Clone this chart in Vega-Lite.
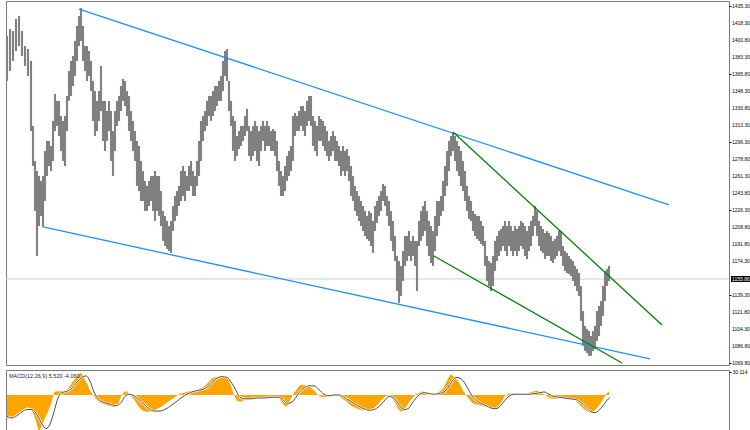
{
  "$schema": "https://vega.github.io/schema/vega-lite/v6.json",
  "padding": {"left": 2, "top": 0, "right": 0, "bottom": 0},
  "background": "white",
  "spacing": 2,
  "config": {
    "font": "Liberation Sans",
    "view": {"stroke": "#7a7a7a", "strokeWidth": 1},
    "axis": {"grid": false, "domain": false, "tickSize": 2, "tickColor": "#000", "labelFontSize": 5, "labelColor": "#000", "labelPadding": 1, "labelFont": "Liberation Sans", "labelOverlap": false, "labelBound": false, "labelFlush": false}
  },
  "datasets": {
    "candles": [
      {"t":3,"h":1404.6,"l":1358.5},{"t":6,"h":1411.7,"l":1368.8},{"t":9,"h":1409.7,"l":1379.0},{"t":12,"h":1422.0,"l":1389.2},{"t":15,"h":1425.0,"l":1394.3},{"t":18,"h":1409.7,"l":1384.1},{"t":21,"h":1394.3,"l":1373.9},{"t":24,"h":1391.3,"l":1363.6},{"t":27,"h":1379.0,"l":1307.3},{"t":29,"h":1312.5,"l":1271.5},{"t":31,"h":1276.6,"l":1225.5},{"t":33,"h":1266.4,"l":1179.4},{"t":35,"h":1261.3,"l":1210.1},{"t":37,"h":1256.2,"l":1220.4},{"t":39,"h":1261.3,"l":1209.1},{"t":41,"h":1286.9,"l":1235.7},{"t":43,"h":1297.1,"l":1261.3},{"t":45,"h":1297.1,"l":1271.5},{"t":47,"h":1292.0,"l":1266.4},{"t":49,"h":1317.6,"l":1276.6},{"t":51,"h":1345.2,"l":1307.3},{"t":53,"h":1338.1,"l":1312.5},{"t":55,"h":1338.1,"l":1302.2},{"t":57,"h":1322.7,"l":1286.9},{"t":59,"h":1317.6,"l":1276.6},{"t":61,"h":1322.7,"l":1271.5},{"t":63,"h":1343.2,"l":1307.3},{"t":65,"h":1368.8,"l":1338.1},{"t":67,"h":1379.0,"l":1343.2},{"t":69,"h":1384.1,"l":1353.4},{"t":71,"h":1399.5,"l":1363.6},{"t":73,"h":1414.8,"l":1379.0},{"t":75,"h":1425.0,"l":1394.3},{"t":77,"h":1433.2,"l":1399.5},{"t":79,"h":1414.8,"l":1379.0},{"t":81,"h":1394.3,"l":1368.8},{"t":83,"h":1394.3,"l":1358.5},{"t":85,"h":1389.2,"l":1363.6},{"t":87,"h":1379.0,"l":1348.3},{"t":89,"h":1358.5,"l":1317.6},{"t":91,"h":1348.3,"l":1302.2},{"t":93,"h":1338.1,"l":1307.3},{"t":95,"h":1348.3,"l":1317.6},{"t":97,"h":1373.9,"l":1327.8},{"t":99,"h":1338.1,"l":1297.1},{"t":101,"h":1338.1,"l":1286.9},{"t":103,"h":1327.8,"l":1297.1},{"t":105,"h":1338.1,"l":1307.3},{"t":107,"h":1327.8,"l":1276.6},{"t":109,"h":1307.3,"l":1261.3},{"t":111,"h":1327.8,"l":1286.9},{"t":113,"h":1338.1,"l":1312.5},{"t":115,"h":1343.2,"l":1317.6},{"t":117,"h":1353.4,"l":1327.8},{"t":119,"h":1360.6,"l":1338.1},{"t":121,"h":1358.5,"l":1332.9},{"t":123,"h":1348.3,"l":1322.7},{"t":125,"h":1343.2,"l":1307.3},{"t":127,"h":1327.8,"l":1297.1},{"t":129,"h":1317.6,"l":1286.9},{"t":131,"h":1307.3,"l":1276.6},{"t":133,"h":1297.1,"l":1251.1},{"t":135,"h":1292.0,"l":1245.9},{"t":137,"h":1276.6,"l":1235.7},{"t":139,"h":1266.4,"l":1235.7},{"t":141,"h":1256.2,"l":1225.5},{"t":143,"h":1251.1,"l":1225.5},{"t":145,"h":1256.2,"l":1230.5},{"t":147,"h":1261.3,"l":1235.7},{"t":149,"h":1261.3,"l":1225.5},{"t":151,"h":1266.4,"l":1215.2},{"t":153,"h":1261.3,"l":1225.5},{"t":155,"h":1261.3,"l":1220.4},{"t":157,"h":1245.9,"l":1210.1},{"t":159,"h":1225.5,"l":1194.8},{"t":161,"h":1220.4,"l":1189.6},{"t":163,"h":1215.2,"l":1186.6},{"t":165,"h":1210.1,"l":1184.5},{"t":167,"h":1215.2,"l":1182.5},{"t":169,"h":1230.5,"l":1205.0},{"t":171,"h":1240.8,"l":1215.2},{"t":173,"h":1245.9,"l":1220.4},{"t":175,"h":1251.1,"l":1230.5},{"t":177,"h":1266.4,"l":1235.7},{"t":179,"h":1271.5,"l":1240.8},{"t":181,"h":1266.4,"l":1235.7},{"t":183,"h":1261.3,"l":1245.9},{"t":185,"h":1271.5,"l":1245.9},{"t":187,"h":1276.6,"l":1251.1},{"t":189,"h":1266.4,"l":1240.8},{"t":191,"h":1261.3,"l":1240.8},{"t":193,"h":1276.6,"l":1251.1},{"t":195,"h":1297.1,"l":1261.3},{"t":197,"h":1317.6,"l":1276.6},{"t":199,"h":1322.7,"l":1297.1},{"t":201,"h":1327.8,"l":1307.3},{"t":203,"h":1338.1,"l":1312.5},{"t":205,"h":1343.2,"l":1322.7},{"t":207,"h":1343.2,"l":1317.6},{"t":209,"h":1348.3,"l":1322.7},{"t":211,"h":1353.4,"l":1327.8},{"t":213,"h":1353.4,"l":1332.9},{"t":215,"h":1358.5,"l":1338.1},{"t":217,"h":1363.6,"l":1338.1},{"t":219,"h":1379.0,"l":1348.3},{"t":221,"h":1389.2,"l":1363.6},{"t":223,"h":1391.3,"l":1358.5},{"t":225,"h":1358.5,"l":1327.8},{"t":227,"h":1338.1,"l":1312.5},{"t":229,"h":1322.7,"l":1286.9},{"t":231,"h":1317.6,"l":1276.6},{"t":233,"h":1302.2,"l":1281.8},{"t":235,"h":1307.3,"l":1288.9},{"t":237,"h":1312.5,"l":1292.0},{"t":239,"h":1312.5,"l":1297.1},{"t":241,"h":1322.7,"l":1302.2},{"t":243,"h":1329.9,"l":1307.3},{"t":245,"h":1312.5,"l":1281.8},{"t":247,"h":1307.3,"l":1276.6},{"t":249,"h":1312.5,"l":1281.8},{"t":251,"h":1317.6,"l":1286.9},{"t":253,"h":1312.5,"l":1276.6},{"t":255,"h":1307.3,"l":1271.5},{"t":257,"h":1312.5,"l":1286.9},{"t":259,"h":1317.6,"l":1297.1},{"t":261,"h":1312.5,"l":1286.9},{"t":263,"h":1317.6,"l":1292.0},{"t":265,"h":1312.5,"l":1292.0},{"t":267,"h":1307.3,"l":1286.9},{"t":269,"h":1309.4,"l":1286.9},{"t":271,"h":1307.3,"l":1281.8},{"t":273,"h":1297.1,"l":1266.4},{"t":275,"h":1276.6,"l":1251.1},{"t":277,"h":1266.4,"l":1240.8},{"t":279,"h":1261.3,"l":1240.8},{"t":281,"h":1271.5,"l":1245.9},{"t":283,"h":1281.8,"l":1256.2},{"t":285,"h":1286.9,"l":1261.3},{"t":287,"h":1292.0,"l":1266.4},{"t":289,"h":1322.7,"l":1276.6},{"t":291,"h":1325.8,"l":1302.2},{"t":293,"h":1322.7,"l":1307.3},{"t":295,"h":1327.8,"l":1307.3},{"t":297,"h":1332.9,"l":1312.5},{"t":299,"h":1332.9,"l":1307.3},{"t":301,"h":1327.8,"l":1302.2},{"t":303,"h":1338.1,"l":1312.5},{"t":305,"h":1343.2,"l":1317.6},{"t":307,"h":1343.2,"l":1312.5},{"t":309,"h":1322.7,"l":1292.0},{"t":311,"h":1317.6,"l":1286.9},{"t":313,"h":1312.5,"l":1281.8},{"t":315,"h":1322.7,"l":1297.1},{"t":317,"h":1319.6,"l":1297.1},{"t":319,"h":1317.6,"l":1292.0},{"t":321,"h":1312.5,"l":1286.9},{"t":323,"h":1307.3,"l":1281.8},{"t":325,"h":1297.1,"l":1276.6},{"t":327,"h":1302.2,"l":1281.8},{"t":329,"h":1307.3,"l":1286.9},{"t":331,"h":1302.2,"l":1276.6},{"t":333,"h":1297.1,"l":1276.6},{"t":335,"h":1292.0,"l":1271.5},{"t":337,"h":1286.9,"l":1261.3},{"t":339,"h":1292.0,"l":1266.4},{"t":341,"h":1286.9,"l":1261.3},{"t":343,"h":1288.9,"l":1266.4},{"t":345,"h":1281.8,"l":1256.2},{"t":347,"h":1271.5,"l":1240.8},{"t":349,"h":1261.3,"l":1235.7},{"t":351,"h":1251.1,"l":1225.5},{"t":353,"h":1245.9,"l":1220.4},{"t":355,"h":1240.8,"l":1215.2},{"t":357,"h":1235.7,"l":1210.1},{"t":359,"h":1230.5,"l":1205.0},{"t":361,"h":1225.5,"l":1199.9},{"t":363,"h":1220.4,"l":1196.8},{"t":365,"h":1225.5,"l":1194.8},{"t":367,"h":1223.4,"l":1189.6},{"t":369,"h":1215.2,"l":1182.5},{"t":371,"h":1230.5,"l":1205.0},{"t":373,"h":1235.7,"l":1213.2},{"t":375,"h":1240.8,"l":1220.4},{"t":377,"h":1245.9,"l":1225.5},{"t":379,"h":1253.1,"l":1235.7},{"t":381,"h":1251.1,"l":1230.5},{"t":383,"h":1240.8,"l":1220.4},{"t":385,"h":1235.7,"l":1210.1},{"t":387,"h":1225.5,"l":1194.8},{"t":389,"h":1215.2,"l":1184.5},{"t":391,"h":1199.9,"l":1174.3},{"t":393,"h":1179.4,"l":1143.6},{"t":395,"h":1174.3,"l":1131.3},{"t":397,"h":1169.2,"l":1138.5},{"t":399,"h":1184.5,"l":1153.8},{"t":401,"h":1199.9,"l":1169.2},{"t":403,"h":1199.9,"l":1174.3},{"t":405,"h":1205.0,"l":1179.4},{"t":407,"h":1194.8,"l":1174.3},{"t":409,"h":1199.9,"l":1179.4},{"t":411,"h":1194.8,"l":1169.2},{"t":413,"h":1194.8,"l":1143.6},{"t":415,"h":1215.2,"l":1189.6},{"t":417,"h":1225.5,"l":1194.8},{"t":419,"h":1230.5,"l":1199.9},{"t":421,"h":1235.7,"l":1205.0},{"t":423,"h":1225.5,"l":1189.6},{"t":425,"h":1215.2,"l":1179.4},{"t":427,"h":1210.1,"l":1172.2},{"t":429,"h":1205.0,"l":1169.2},{"t":431,"h":1220.4,"l":1184.5},{"t":433,"h":1235.7,"l":1199.9},{"t":435,"h":1235.7,"l":1210.1},{"t":437,"h":1240.8,"l":1220.4},{"t":439,"h":1256.2,"l":1225.5},{"t":441,"h":1271.5,"l":1240.8},{"t":443,"h":1286.9,"l":1251.1},{"t":445,"h":1297.1,"l":1266.4},{"t":447,"h":1302.2,"l":1281.8},{"t":449,"h":1306.3,"l":1286.9},{"t":451,"h":1302.2,"l":1276.6},{"t":453,"h":1297.1,"l":1266.4},{"t":455,"h":1292.0,"l":1261.3},{"t":457,"h":1286.9,"l":1251.1},{"t":459,"h":1276.6,"l":1245.9},{"t":461,"h":1266.4,"l":1235.7},{"t":463,"h":1251.1,"l":1225.5},{"t":465,"h":1240.8,"l":1217.3},{"t":467,"h":1235.7,"l":1215.2},{"t":469,"h":1225.5,"l":1205.0},{"t":471,"h":1222.4,"l":1199.9},{"t":473,"h":1220.4,"l":1196.8},{"t":475,"h":1220.4,"l":1194.8},{"t":477,"h":1215.2,"l":1191.7},{"t":479,"h":1210.1,"l":1189.6},{"t":481,"h":1194.8,"l":1169.2},{"t":483,"h":1179.4,"l":1153.8},{"t":485,"h":1174.3,"l":1148.7},{"t":487,"h":1172.2,"l":1143.6},{"t":489,"h":1179.4,"l":1148.7},{"t":491,"h":1194.8,"l":1164.1},{"t":493,"h":1199.9,"l":1174.3},{"t":495,"h":1205.0,"l":1179.4},{"t":497,"h":1207.0,"l":1184.5},{"t":499,"h":1210.1,"l":1189.6},{"t":501,"h":1215.2,"l":1184.5},{"t":503,"h":1210.1,"l":1179.4},{"t":505,"h":1215.2,"l":1189.6},{"t":507,"h":1210.1,"l":1184.5},{"t":509,"h":1205.0,"l":1179.4},{"t":511,"h":1210.1,"l":1184.5},{"t":513,"h":1207.0,"l":1179.4},{"t":515,"h":1210.1,"l":1184.5},{"t":517,"h":1215.2,"l":1189.6},{"t":519,"h":1213.2,"l":1186.6},{"t":521,"h":1210.1,"l":1179.4},{"t":523,"h":1205.0,"l":1176.3},{"t":525,"h":1210.1,"l":1184.5},{"t":527,"h":1215.2,"l":1189.6},{"t":529,"h":1220.4,"l":1199.9},{"t":531,"h":1230.5,"l":1210.1},{"t":533,"h":1225.5,"l":1199.9},{"t":535,"h":1215.2,"l":1189.6},{"t":537,"h":1210.1,"l":1184.5},{"t":539,"h":1207.0,"l":1182.5},{"t":541,"h":1202.9,"l":1176.3},{"t":543,"h":1205.0,"l":1179.4},{"t":545,"h":1202.9,"l":1179.4},{"t":547,"h":1199.9,"l":1174.3},{"t":549,"h":1194.8,"l":1172.2},{"t":551,"h":1196.8,"l":1176.3},{"t":553,"h":1199.9,"l":1179.4},{"t":555,"h":1205.0,"l":1184.5},{"t":557,"h":1205.0,"l":1179.4},{"t":559,"h":1189.6,"l":1169.2},{"t":561,"h":1184.5,"l":1164.1},{"t":563,"h":1182.5,"l":1162.0},{"t":565,"h":1179.4,"l":1161.0},{"t":567,"h":1176.3,"l":1158.9},{"t":569,"h":1174.3,"l":1153.8},{"t":571,"h":1169.2,"l":1148.7},{"t":573,"h":1166.1,"l":1143.6},{"t":575,"h":1162.0,"l":1138.5},{"t":577,"h":1148.7,"l":1112.9},{"t":579,"h":1123.1,"l":1087.3},{"t":581,"h":1107.8,"l":1082.2},{"t":583,"h":1104.7,"l":1080.1},{"t":585,"h":1102.6,"l":1077.1},{"t":587,"h":1097.5,"l":1077.1},{"t":589,"h":1102.6,"l":1082.2},{"t":591,"h":1107.8,"l":1084.2},{"t":593,"h":1123.1,"l":1092.4},{"t":595,"h":1128.2,"l":1097.5},{"t":597,"h":1133.4,"l":1107.8},{"t":599,"h":1148.7,"l":1118.0},{"t":601,"h":1164.1,"l":1133.4},{"t":603,"h":1166.1,"l":1148.7},{"t":605,"h":1169.2,"l":1153.8}
    ],
    "trend": [
      {"line":"b1","t":75,"p":1432.2},{"line":"b1","t":665,"p":1231.6},
      {"line":"b2","t":39,"p":1209.1},{"line":"b2","t":646,"p":1074.0},
      {"line":"g1","t":449,"p":1306.3},{"line":"g1","t":658,"p":1108.8},
      {"line":"g2","t":430,"p":1179.4},{"line":"g2","t":618,"p":1069.9}
    ],
    "pricelabels": [
      {"x":728,"p":1069.8,"lab":"1069.80"},{"x":728,"p":1086.8,"lab":"1086.80"},{"x":728,"p":1104.3,"lab":"1104.30"},{"x":728,"p":1121.8,"lab":"1121.80"},{"x":728,"p":1139.3,"lab":"1139.30"},{"x":728,"p":1174.3,"lab":"1174.30"},{"x":728,"p":1191.8,"lab":"1191.80"},{"x":728,"p":1208.8,"lab":"1208.80"},{"x":728,"p":1226.3,"lab":"1226.30"},{"x":728,"p":1243.8,"lab":"1243.80"},{"x":728,"p":1261.3,"lab":"1261.30"},{"x":728,"p":1278.8,"lab":"1278.80"},{"x":728,"p":1296.3,"lab":"1296.30"},{"x":728,"p":1313.3,"lab":"1313.30"},{"x":728,"p":1330.8,"lab":"1330.80"},{"x":728,"p":1348.3,"lab":"1348.30"},{"x":728,"p":1365.8,"lab":"1365.80"},{"x":728,"p":1383.3,"lab":"1383.30"},{"x":728,"p":1400.8,"lab":"1400.80"},{"x":728,"p":1418.3,"lab":"1418.30"},{"x":728,"p":1435.3,"lab":"1435.30"}
    ],
    "hist": [
      {"t":3,"m":-31},{"t":8,"m":-30},{"t":13,"m":-25},{"t":18,"m":-20},{"t":23,"m":-16},{"t":27,"m":-18},{"t":31,"m":-30},{"t":35,"m":-48},{"t":38,"m":-40},{"t":41,"m":-30},{"t":44,"m":-22},{"t":47,"m":-12},{"t":50,"m":4},{"t":53,"m":5},{"t":56,"m":5},{"t":60,"m":5},{"t":63,"m":6},{"t":66,"m":12},{"t":69,"m":18},{"t":72,"m":22},{"t":75,"m":27},{"t":77,"m":29},{"t":80,"m":22},{"t":83,"m":15},{"t":86,"m":6},{"t":89,"m":0},{"t":92,"m":-6},{"t":96,"m":-10},{"t":100,"m":-12},{"t":105,"m":-14},{"t":110,"m":-16},{"t":114,"m":-12},{"t":117,"m":-2},{"t":120,"m":4},{"t":123,"m":5},{"t":126,"m":0},{"t":130,"m":-6},{"t":134,"m":-14},{"t":138,"m":-20},{"t":142,"m":-22},{"t":146,"m":-22},{"t":150,"m":-20},{"t":155,"m":-17},{"t":160,"m":-13},{"t":165,"m":-8},{"t":170,"m":-4},{"t":175,"m":1},{"t":180,"m":3},{"t":185,"m":5},{"t":190,"m":6},{"t":195,"m":8},{"t":200,"m":11},{"t":204,"m":16},{"t":208,"m":22},{"t":212,"m":24},{"t":216,"m":24},{"t":220,"m":24},{"t":224,"m":22},{"t":227,"m":12},{"t":230,"m":0},{"t":233,"m":-8},{"t":237,"m":-9},{"t":241,"m":-6},{"t":245,"m":-6},{"t":250,"m":-4},{"t":255,"m":-3},{"t":260,"m":-3},{"t":265,"m":-3},{"t":270,"m":-3},{"t":275,"m":-4},{"t":278,"m":-10},{"t":281,"m":-15},{"t":284,"m":-14},{"t":287,"m":-4},{"t":290,"m":3},{"t":293,"m":8},{"t":296,"m":13},{"t":300,"m":13},{"t":305,"m":12},{"t":310,"m":6},{"t":314,"m":0},{"t":318,"m":-3},{"t":322,"m":-3},{"t":326,"m":0},{"t":330,"m":1},{"t":334,"m":0},{"t":338,"m":-5},{"t":342,"m":-8},{"t":346,"m":-13},{"t":350,"m":-16},{"t":355,"m":-19},{"t":360,"m":-20},{"t":365,"m":-19},{"t":370,"m":-17},{"t":374,"m":-12},{"t":378,"m":-6},{"t":382,"m":-1},{"t":385,"m":0},{"t":388,"m":-4},{"t":391,"m":-10},{"t":394,"m":-18},{"t":397,"m":-22},{"t":400,"m":-20},{"t":403,"m":-14},{"t":406,"m":-8},{"t":409,"m":-3},{"t":412,"m":1},{"t":415,"m":3},{"t":418,"m":5},{"t":421,"m":3},{"t":424,"m":0},{"t":427,"m":0},{"t":430,"m":1},{"t":433,"m":3},{"t":436,"m":5},{"t":439,"m":8},{"t":442,"m":16},{"t":445,"m":24},{"t":447,"m":27},{"t":450,"m":24},{"t":453,"m":20},{"t":456,"m":14},{"t":459,"m":6},{"t":462,"m":0},{"t":465,"m":-5},{"t":468,"m":-10},{"t":471,"m":-12},{"t":475,"m":-13},{"t":480,"m":-15},{"t":485,"m":-17},{"t":489,"m":-19},{"t":492,"m":-18},{"t":495,"m":-14},{"t":498,"m":-8},{"t":501,"m":-1},{"t":504,"m":2},{"t":508,"m":2},{"t":512,"m":1},{"t":516,"m":0},{"t":520,"m":1},{"t":524,"m":2},{"t":527,"m":4},{"t":530,"m":5},{"t":533,"m":6},{"t":536,"m":4},{"t":539,"m":2},{"t":542,"m":-1},{"t":545,"m":-4},{"t":548,"m":-5},{"t":552,"m":-5},{"t":556,"m":-4},{"t":560,"m":-4},{"t":564,"m":-4},{"t":568,"m":-5},{"t":572,"m":-8},{"t":575,"m":-12},{"t":578,"m":-16},{"t":581,"m":-20},{"t":584,"m":-22},{"t":587,"m":-23},{"t":590,"m":-21},{"t":593,"m":-17},{"t":596,"m":-12},{"t":599,"m":-6},{"t":602,"m":1},{"t":605,"m":5}
    ],
    "signal": [
      {"t":3,"s":-28},{"t":8,"s":-30},{"t":13,"s":-27},{"t":18,"s":-22},{"t":23,"s":-19},{"t":28,"s":-19},{"t":33,"s":-26},{"t":38,"s":-38},{"t":42,"s":-44},{"t":46,"s":-38},{"t":50,"s":-22},{"t":54,"s":-4},{"t":58,"s":3},{"t":63,"s":5},{"t":68,"s":9},{"t":73,"s":17},{"t":78,"s":23},{"t":82,"s":25},{"t":86,"s":18},{"t":90,"s":4},{"t":94,"s":-5},{"t":100,"s":-10},{"t":106,"s":-12},{"t":112,"s":-14},{"t":117,"s":-10},{"t":121,"s":-2},{"t":125,"s":1},{"t":130,"s":-1},{"t":135,"s":-6},{"t":140,"s":-12},{"t":145,"s":-18},{"t":150,"s":-21},{"t":156,"s":-21},{"t":162,"s":-18},{"t":167,"s":-14},{"t":173,"s":-8},{"t":178,"s":-3},{"t":183,"s":1},{"t":188,"s":4},{"t":194,"s":6},{"t":200,"s":8},{"t":205,"s":12},{"t":209,"s":18},{"t":213,"s":22},{"t":218,"s":24},{"t":223,"s":23},{"t":228,"s":15},{"t":232,"s":6},{"t":236,"s":-3},{"t":241,"s":-5},{"t":247,"s":-5},{"t":253,"s":-4},{"t":260,"s":-4},{"t":267,"s":-3},{"t":273,"s":-3},{"t":278,"s":-5},{"t":283,"s":-11},{"t":287,"s":-10},{"t":291,"s":-5},{"t":295,"s":3},{"t":300,"s":9},{"t":305,"s":12},{"t":310,"s":12},{"t":315,"s":7},{"t":320,"s":1},{"t":325,"s":-1},{"t":330,"s":0},{"t":335,"s":0},{"t":340,"s":-3},{"t":345,"s":-7},{"t":350,"s":-11},{"t":355,"s":-15},{"t":360,"s":-18},{"t":365,"s":-20},{"t":370,"s":-19},{"t":375,"s":-15},{"t":380,"s":-8},{"t":385,"s":-2},{"t":388,"s":-3},{"t":392,"s":-7},{"t":396,"s":-14},{"t":400,"s":-19},{"t":404,"s":-18},{"t":408,"s":-11},{"t":412,"s":-4},{"t":416,"s":1},{"t":420,"s":3},{"t":425,"s":2},{"t":430,"s":1},{"t":435,"s":2},{"t":440,"s":4},{"t":444,"s":10},{"t":448,"s":18},{"t":452,"s":23},{"t":456,"s":22},{"t":460,"s":17},{"t":464,"s":8},{"t":468,"s":-1},{"t":472,"s":-7},{"t":477,"s":-11},{"t":482,"s":-14},{"t":487,"s":-17},{"t":491,"s":-18},{"t":495,"s":-16},{"t":499,"s":-10},{"t":503,"s":-4},{"t":507,"s":0},{"t":511,"s":1},{"t":516,"s":1},{"t":521,"s":1},{"t":526,"s":1},{"t":531,"s":2},{"t":536,"s":3},{"t":540,"s":4},{"t":545,"s":1},{"t":550,"s":-2},{"t":555,"s":-3},{"t":560,"s":-4},{"t":566,"s":-5},{"t":572,"s":-6},{"t":577,"s":-10},{"t":582,"s":-16},{"t":587,"s":-22},{"t":591,"s":-23},{"t":595,"s":-20},{"t":599,"s":-14},{"t":603,"s":-7},{"t":606,"s":-3}
    ]
  },
  "vconcat": [
    {
      "width": 723,
      "height": 364,
      "layer": [
        {
          "data": {"values": [{"p": 1155.86}]},
          "mark": {"type": "rule", "color": "#cfcfcf", "strokeWidth": 1},
          "encoding": {
            "y": {"field": "p", "type": "quantitative", "scale": {"domain": [1067.8, 1440.4], "nice": false, "zero": false},
              "axis": {"orient": "right", "title": null, "format": ".2f", "labelOpacity": 0, "tickSize": 2, "values": [1069.8, 1086.8, 1104.3, 1121.8, 1139.3, 1174.3, 1191.8, 1208.8, 1226.3, 1243.8, 1261.3, 1278.8, 1296.3, 1313.3, 1330.8, 1348.3, 1365.8, 1383.3, 1400.8, 1418.3, 1435.3]}}
          }
        },
        {
          "data": {"name": "candles"},
          "mark": {"type": "rule", "color": "#808080", "strokeWidth": 2.1},
          "encoding": {
            "x": {"field": "t", "type": "quantitative", "scale": {"domain": [2, 725], "nice": false, "zero": false}, "axis": null},
            "y": {"field": "l", "type": "quantitative", "scale": {"domain": [1067.8, 1440.4], "nice": false, "zero": false}},
            "y2": {"field": "h"}
          }
        },
        {
          "data": {"name": "trend"},
          "mark": {"type": "line", "strokeWidth": 1.3},
          "encoding": {
            "x": {"field": "t", "type": "quantitative", "scale": {"domain": [2, 725], "nice": false, "zero": false}, "axis": null},
            "y": {"field": "p", "type": "quantitative", "scale": {"domain": [1067.8, 1440.4], "nice": false, "zero": false}},
            "detail": {"field": "line"},
            "color": {"field": "line", "type": "nominal", "scale": {"domain": ["b1", "b2", "g1", "g2"], "range": ["#1e90ff", "#1e90ff", "#008000", "#008000"]}, "legend": null}
          }
        },
        {
          "data": {"name": "pricelabels"},
          "mark": {"type": "text", "color": "#000", "fontSize": 5, "align": "left", "baseline": "middle"},
          "encoding": {
            "x": {"field": "x", "type": "quantitative", "scale": {"domain": [2, 725], "nice": false, "zero": false}, "axis": null},
            "y": {"field": "p", "type": "quantitative", "scale": {"domain": [1067.8, 1440.4], "nice": false, "zero": false}},
            "text": {"field": "lab"}
          }
        },
        {
          "data": {"values": [{"x1": 727, "x2": 747, "lo": 1152.8, "hi": 1158.9}]},
          "mark": {"type": "rect", "color": "#000"},
          "encoding": {
            "x": {"field": "x1", "type": "quantitative", "scale": {"domain": [2, 725], "nice": false, "zero": false}, "axis": null},
            "x2": {"field": "x2"},
            "y": {"field": "lo", "type": "quantitative", "scale": {"domain": [1067.8, 1440.4], "nice": false, "zero": false}},
            "y2": {"field": "hi"}
          }
        },
        {
          "data": {"values": [{"x": 728, "p": 1155.86, "label": "1155.86"}]},
          "mark": {"type": "text", "color": "#fff", "fontSize": 5, "align": "left", "baseline": "middle"},
          "encoding": {
            "x": {"field": "x", "type": "quantitative", "scale": {"domain": [2, 725], "nice": false, "zero": false}, "axis": null},
            "y": {"field": "p", "type": "quantitative", "scale": {"domain": [1067.8, 1440.4], "nice": false, "zero": false}},
            "text": {"field": "label"}
          }
        }
      ]
    },
    {
      "width": 723,
      "height": 64,
      "layer": [
        {
          "data": {"name": "hist"},
          "mark": {"type": "area", "color": "#ffa500", "interpolate": "linear"},
          "encoding": {
            "x": {"field": "t", "type": "quantitative", "scale": {"domain": [2, 725], "nice": false, "zero": false}, "axis": null},
            "y": {"field": "m", "type": "quantitative", "scale": {"domain": [-51.05, 32.7], "nice": false, "zero": false},
              "axis": {"orient": "right", "title": null, "labelOverlap": false, "values": [30.114, 0, -50.726], "labelExpr": "datum.value == 0 ? '0.00' : format(datum.value, '.3f')"}},
            "y2": {"datum": 0}
          }
        },
        {
          "data": {"name": "signal"},
          "mark": {"type": "line", "color": "#ffffff", "strokeWidth": 2.2, "interpolate": "monotone"},
          "encoding": {
            "x": {"field": "t", "type": "quantitative", "scale": {"domain": [2, 725], "nice": false, "zero": false}, "axis": null},
            "y": {"field": "s", "type": "quantitative", "scale": {"domain": [-51.05, 32.7], "nice": false, "zero": false}}
          }
        },
        {
          "data": {"name": "signal"},
          "mark": {"type": "line", "color": "#3a3a3a", "strokeWidth": 0.9, "interpolate": "monotone"},
          "encoding": {
            "x": {"field": "t", "type": "quantitative", "scale": {"domain": [2, 725], "nice": false, "zero": false}, "axis": null},
            "y": {"field": "s", "type": "quantitative", "scale": {"domain": [-51.05, 32.7], "nice": false, "zero": false}}
          }
        },
        {
          "data": {"values": [{"x": 5, "v": 25, "label": "MACD(12,26,9) 5.520 -4.060"}]},
          "mark": {"type": "text", "color": "#222", "fontSize": 5.5, "align": "left", "baseline": "middle"},
          "encoding": {
            "x": {"field": "x", "type": "quantitative", "scale": {"domain": [2, 725], "nice": false, "zero": false}, "axis": null},
            "y": {"field": "v", "type": "quantitative", "scale": {"domain": [-51.05, 32.7], "nice": false, "zero": false}},
            "text": {"field": "label"}
          }
        }
      ]
    }
  ]
}
